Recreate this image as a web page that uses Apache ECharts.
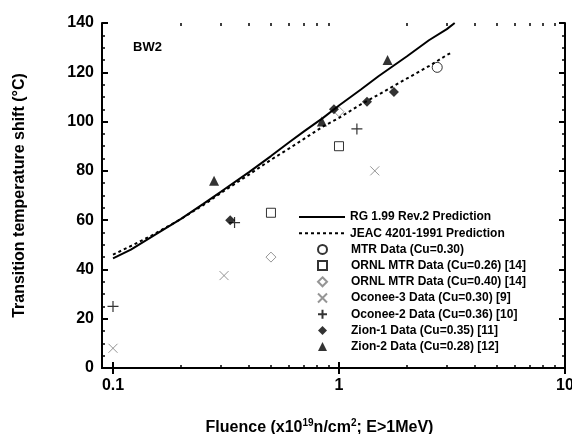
<!DOCTYPE html>
<html>
<head>
<meta charset="utf-8">
<script src="https://cdn.jsdelivr.net/npm/echarts@6/dist/echarts.min.js"></script>
<style>html,body{margin:0;padding:0;background:#fff}#c{width:572px;height:434px}</style>
</head>
<body>
<div id="c"></div>
<script>
// ---- data ----
const xMajorTicks = [0.1, 1, 10];
const xMinorTicks = [0.2, 0.3, 0.4, 0.5, 0.6, 0.7, 0.8, 0.9, 2, 3, 4, 5, 6, 7, 8, 9];
const yTicksInterval = 20;

const rgFluence = [0.1, 0.12, 0.15, 0.2, 0.25, 0.3, 0.4, 0.5, 0.6, 0.7, 0.85, 1.0, 1.25, 1.5, 2.0, 2.5, 3.0, 3.25];
const rgShift   = [44.5, 48, 53.5, 60.5, 66.5, 71.5, 79.5, 86, 91.5, 96, 101.5, 106.5, 113, 118.5, 126.5, 133, 137.5, 140];

const jeacFluence = [0.1, 0.12, 0.15, 0.2, 0.25, 0.3, 0.4, 0.5, 0.6, 0.7, 0.85, 1.0, 1.25, 1.5, 2.0, 2.5, 3.0, 3.15];
const jeacShift   = [46, 49.5, 54, 60.5, 66, 71, 78.5, 84.5, 89, 93, 98, 101.5, 107, 111, 117.5, 122.5, 127, 128];

const mtrX = [2.72];                 const mtrY = [122];
const ornl26X = [0.5, 1.0];          const ornl26Y = [63, 90];
const ornl40X = [0.5, 1.0];          const ornl40Y = [45, 104];
const oconee3X = [0.1, 0.31, 1.44];  const oconee3Y = [8, 37.5, 80];
const oconee2X = [0.1, 0.345, 1.2];  const oconee2Y = [25, 59, 97];
const zion1X = [0.33, 0.95, 1.33, 1.75]; const zion1Y = [60, 105, 108, 112];
const zion2X = [0.28, 0.84, 1.64];   const zion2Y = [76, 100, 125];

const names = [
  'RG 1.99 Rev.2 Prediction',
  'JEAC 4201-1991 Prediction',
  'MTR Data (Cu=0.30)',
  'ORNL MTR Data (Cu=0.26) [14]',
  'ORNL MTR Data (Cu=0.40) [14]',
  'Oconee-3 Data (Cu=0.30) [9]',
  'Oconee-2 Data (Cu=0.36) [10]',
  'Zion-1 Data (Cu=0.35) [11]',
  'Zion-2 Data (Cu=0.28) [12]'
];

const zip = (a, b) => a.map((v, i) => [v, b[i]]);
const FONT = 'Liberation Sans, Arial, Helvetica, sans-serif';
const XMIN = 0.0894, XMAX = 10;
const GREY = '#7a7a7a';
const CROSS = 'path://M0,0L10,10M10,0L0,10';
const PLUS = 'path://M5,0L5,10M0,5L10,5';

const chart = echarts.init(document.getElementById('c'), null, {renderer: 'canvas'});

const baseX = {
  type: 'log', min: XMIN, max: XMAX, gridIndex: 0,
  splitLine: {show: false}, minorTick: {show: false}, minorSplitLine: {show: false}
};
const legendText = {fontFamily: FONT, fontWeight: 'bold', fontSize: 12, color: '#000', lineHeight: 12};
const option = {
  animation: false,
  backgroundColor: '#fff',
  title: {
    text: 'BW2', left: 128, top: 36,
    textStyle: {fontFamily: FONT, fontWeight: 'bold', fontSize: 13, color: '#000'}
  },
  grid: {left: 102, right: 7, top: 23, bottom: 66, containLabel: false, outerBoundsMode: 'none'},
  xAxis: [
    Object.assign({}, baseX, {
      position: 'bottom',
      name: '{m|Fluence (x10}{s|19}{m|n/cm}{s|2}{m|; E>1MeV)}',
      nameLocation: 'middle', nameGap: 50,
      nameTextStyle: {
        padding: [0, 28, 0, 0],
        rich: {
          m: {fontFamily: FONT, fontWeight: 'bold', fontSize: 16, color: '#000', verticalAlign: 'bottom', lineHeight: 18},
          s: {fontFamily: FONT, fontWeight: 'bold', fontSize: 10, color: '#000', verticalAlign: 'top', lineHeight: 18, padding: [0, 0, 8, 0]}
        }
      },
      axisLine: {show: true, lineStyle: {color: '#000', width: 2}},
      axisTick: {show: true, inside: true, length: 6, lineStyle: {color: '#000', width: 2}, customValues: xMajorTicks},
      axisLabel: {
        show: true, customValues: xMajorTicks, margin: 10,
        fontFamily: FONT, fontWeight: 'bold', fontSize: 16, color: '#000',
        formatter: v => String(+(+v).toPrecision(3))
      }
    }),
    Object.assign({}, baseX, {
      position: 'top',
      axisLine: {show: true, lineStyle: {color: '#000', width: 2}},
      axisTick: {show: true, inside: true, length: 6, lineStyle: {color: '#000', width: 2}, customValues: xMajorTicks},
      axisLabel: {show: false}
    }),
    Object.assign({}, baseX, {
      position: 'bottom',
      axisLine: {show: false},
      axisTick: {show: true, inside: true, length: 3, lineStyle: {color: '#000', width: 1.5}, customValues: xMinorTicks},
      axisLabel: {show: false}
    }),
    Object.assign({}, baseX, {
      position: 'top',
      axisLine: {show: false},
      axisTick: {show: true, inside: true, length: 3, lineStyle: {color: '#000', width: 1.5}, customValues: xMinorTicks},
      axisLabel: {show: false}
    })
  ],
  yAxis: [
    {
      type: 'value', min: 0, max: 140, interval: yTicksInterval, position: 'left',
      name: 'Transition temperature shift (°C)', nameLocation: 'middle', nameGap: 74, nameRotate: 90,
      nameTextStyle: {fontFamily: FONT, fontWeight: 'bold', fontSize: 16, color: '#000'},
      axisLine: {show: true, lineStyle: {color: '#000', width: 2}},
      axisTick: {show: true, inside: true, length: 6, lineStyle: {color: '#000', width: 2}},
      minorTick: {show: true, splitNumber: 4, length: 3, lineStyle: {color: '#000', width: 1.5}},
      splitLine: {show: false},
      axisLabel: {margin: 8, fontFamily: FONT, fontWeight: 'bold', fontSize: 16, color: '#000'}
    },
    {
      type: 'value', min: 0, max: 140, interval: yTicksInterval, position: 'right',
      axisLine: {show: true, lineStyle: {color: '#000', width: 2}},
      axisTick: {show: true, inside: true, length: 6, lineStyle: {color: '#000', width: 2}},
      minorTick: {show: true, splitNumber: 4, length: 3, lineStyle: {color: '#000', width: 1.5}},
      splitLine: {show: false},
      axisLabel: {show: false}
    }
  ],
  legend: [
    {
      orient: 'vertical', left: 293, top: 206,
      itemWidth: 46, itemHeight: 9, itemGap: 4.2,
      textStyle: legendText,
      data: names.slice(0, 2).map(n => ({name: n, itemStyle: {opacity: 0}})),
      selectedMode: false
    },
    {
      orient: 'vertical', left: 312, top: 238.4,
      itemWidth: 9, itemHeight: 9, itemGap: 4.2,
      textStyle: Object.assign({}, legendText, {padding: [0, 0, 0, 19]}),
      data: names.slice(2).map(n => ({name: n})),
      selectedMode: false
    }
  ],
  series: [
    {
      name: names[0], type: 'line', data: zip(rgFluence, rgShift),
      symbol: 'none', smooth: false,
      lineStyle: {color: '#000', width: 2, type: 'solid'}, itemStyle: {color: 'transparent'}
    },
    {
      name: names[1], type: 'line', data: zip(jeacFluence, jeacShift),
      symbol: 'none', smooth: false,
      lineStyle: {color: '#000', width: 2, type: [3, 3]}, itemStyle: {color: 'transparent'}
    },
    {
      name: names[2], type: 'scatter', data: zip(mtrX, mtrY), symbol: 'circle', symbolSize: 10,
      itemStyle: {color: '#fff', borderColor: '#000', borderWidth: 1}
    },
    {
      name: names[3], type: 'scatter', data: zip(ornl26X, ornl26Y), symbol: 'rect', symbolSize: 9,
      itemStyle: {color: '#fff', borderColor: '#000', borderWidth: 1}
    },
    {
      name: names[4], type: 'scatter', data: zip(ornl40X, ornl40Y), symbol: 'diamond', symbolSize: 10,
      itemStyle: {color: '#fff', borderColor: GREY, borderWidth: 1}
    },
    {
      name: names[5], type: 'scatter', data: zip(oconee3X, oconee3Y), symbol: CROSS, symbolSize: 9,
      itemStyle: {color: 'transparent', borderColor: GREY, borderWidth: 1}
    },
    {
      name: names[6], type: 'scatter', data: zip(oconee2X, oconee2Y), symbol: PLUS, symbolSize: 11,
      itemStyle: {color: 'transparent', borderColor: '#000', borderWidth: 1.2}
    },
    {
      name: names[7], type: 'scatter', data: zip(zion1X, zion1Y), symbol: 'diamond', symbolSize: 10,
      itemStyle: {color: '#000'}
    },
    {
      name: names[8], type: 'scatter', data: zip(zion2X, zion2Y), symbol: 'triangle', symbolSize: 10,
      itemStyle: {color: '#000'}
    }
  ]
};
chart.setOption(option);
</script>
</body>
</html>
